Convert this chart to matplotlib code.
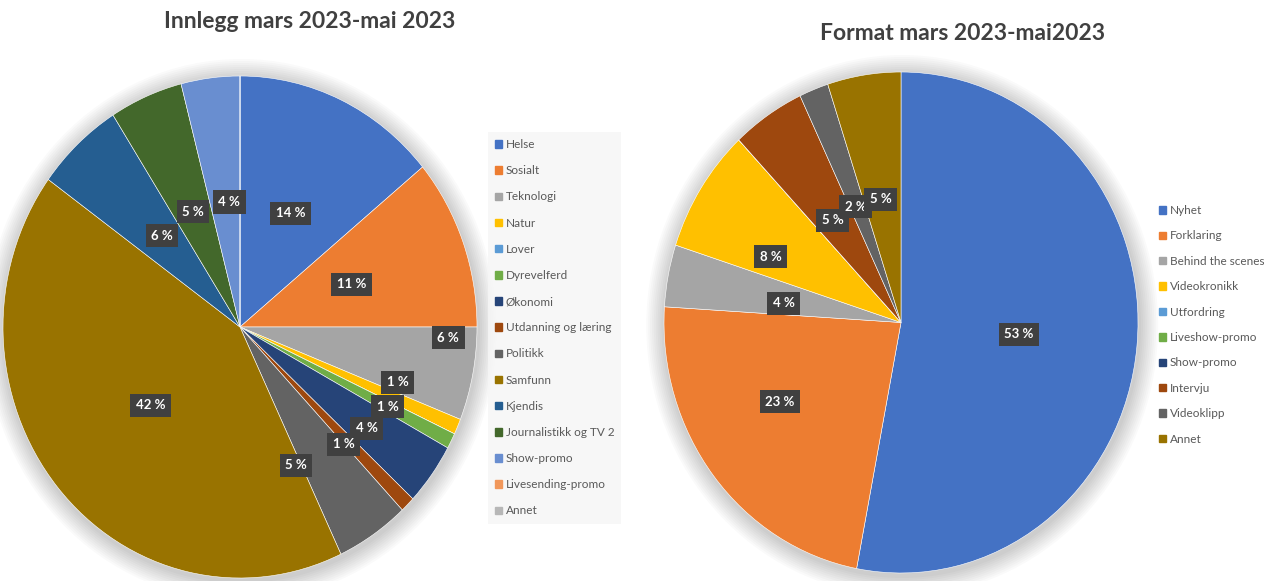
import numpy as np
import matplotlib
matplotlib.use("Agg")
import matplotlib.pyplot as plt
from matplotlib.patches import Patch, Ellipse

plt.rcParams['font.family'] = ['Lato', 'DejaVu Sans']

# ---- data ----
left_title = "Innlegg mars 2023-mai 2023"
left_labels = ["Helse", "Sosialt", "Teknologi", "Natur", "Lover", "Dyrevelferd",
               "Økonomi", "Utdanning og læring", "Politikk", "Samfunn", "Kjendis",
               "Journalistikk og TV 2", "Show-promo", "Livesending-promo", "Annet"]
left_values = [14, 11, 6, 1, 0, 1, 4, 1, 5, 42, 6, 5, 4, 0, 0]

right_title = "Format mars 2023-mai2023"
right_labels = ["Nyhet", "Forklaring", "Behind the scenes", "Videokronikk", "Utfordring",
                "Liveshow-promo", "Show-promo", "Intervju", "Videoklipp", "Annet"]
right_values = [53, 23, 4, 8, 0, 0, 0, 5, 2, 5]

# office palette
office = ["#4472C4", "#ED7D31", "#A5A5A5", "#FFC000", "#5B9BD5", "#70AD47",
          "#264478", "#9E480E", "#636363", "#997300", "#255E91", "#43682B",
          "#698ED0", "#F1975A", "#B7B7B7"]

# label placement tweaks (radius, angle nudge in degrees)
left_lab_r = [0.50, 0.50, 0.88, 0.70, 0, 0.70, 0.67, 0.64, 0.60, 0.49, 0.49, 0.50, 0.50, 0, 0]
left_lab_da = [0, 0, 8, 5, 0, 0, -1, -2, -11, 0, -1, 0, -2, 0, 0]
right_lab_r = [0.50, 0.60, 0.50, 0.61, 0, 0, 0, 0.50, 0.50, 0.50]
right_lab_da = [0, -6, 2, 7, 0, 0, 0, 1, 1, 1]

W, H = 1266, 581
fig = plt.figure(figsize=(W / 100, H / 100), dpi=100)
fig.patch.set_facecolor("white")


def px_axes(x0, y0, x1, y1):
    # image pixel box -> figure fraction
    return fig.add_axes([x0 / W, 1 - y1 / H, (x1 - x0) / W, (y1 - y0) / H])


def draw_pie(ax, values, colors, lab_r, lab_da):
    # soft shadow
    for k in range(10):
        s = 1.0 + 0.008 * (k + 1)
        ax.add_patch(Ellipse((0.005, -0.012), 2 * s, 2 * s, color="#000000",
                             alpha=0.018, lw=0, zorder=0, clip_on=False))
    wedges, _ = ax.pie(values, colors=colors, startangle=90, counterclock=False,
                       wedgeprops=dict(edgecolor="white", linewidth=0.4))
    for w in wedges:
        w.set_zorder(2)
    ax.set_aspect("auto")
    ax.set_xlim(-1, 1)
    ax.set_ylim(-1, 1)
    for w, v, r, da in zip(wedges, values, lab_r, lab_da):
        if v < 0.5 or r == 0:
            continue
        ang = np.deg2rad((w.theta1 + w.theta2) / 2 + da)
        ax.text(r * np.cos(ang), r * np.sin(ang), f"{v} %", ha="center", va="center",
                color="white", fontsize=9.5, fontweight="bold", zorder=5,
                bbox=dict(boxstyle="square,pad=0.42", fc="#404040", ec="none"))


axl = px_axes(3, 76, 477, 578)
draw_pie(axl, left_values, office[:len(left_values)], left_lab_r, left_lab_da)
axr = px_axes(664, 72, 1138, 573)
draw_pie(axr, right_values, office[:len(right_values)], right_lab_r, right_lab_da)

fig.text(310 / W, 1 - 22 / H, left_title, ha="center", va="center",
         fontsize=16.5, fontweight="bold", color="#404040")
fig.text(963 / W, 1 - 33 / H, right_title, ha="center", va="center",
         fontsize=16.5, fontweight="bold", color="#404040")

# legends
legl = fig.legend([Patch(color=c) for c in office[:len(left_labels)]], left_labels,
                  loc="upper left", bbox_to_anchor=(488 / W, 1 - 132 / H),
                  frameon=True, fontsize=8.5, handlelength=0.6, handleheight=0.6,
                  handletextpad=0.3, labelspacing=1.285, borderpad=0.6,
                  borderaxespad=0, labelcolor="#595959")
legl.get_frame().set_facecolor("#f6f6f6")
legl.get_frame().set_edgecolor("none")
legl.get_frame().set_boxstyle("square,pad=0")

legr = fig.legend([Patch(color=c) for c in office[:len(right_labels)]], right_labels,
                  loc="upper left", bbox_to_anchor=(1152 / W, 1 - 198 / H),
                  frameon=False, fontsize=8.5, handlelength=0.6, handleheight=0.6,
                  handletextpad=0.3, labelspacing=1.22, borderpad=0.6,
                  borderaxespad=0, labelcolor="#595959")

fig.savefig("out.png", dpi=100)
